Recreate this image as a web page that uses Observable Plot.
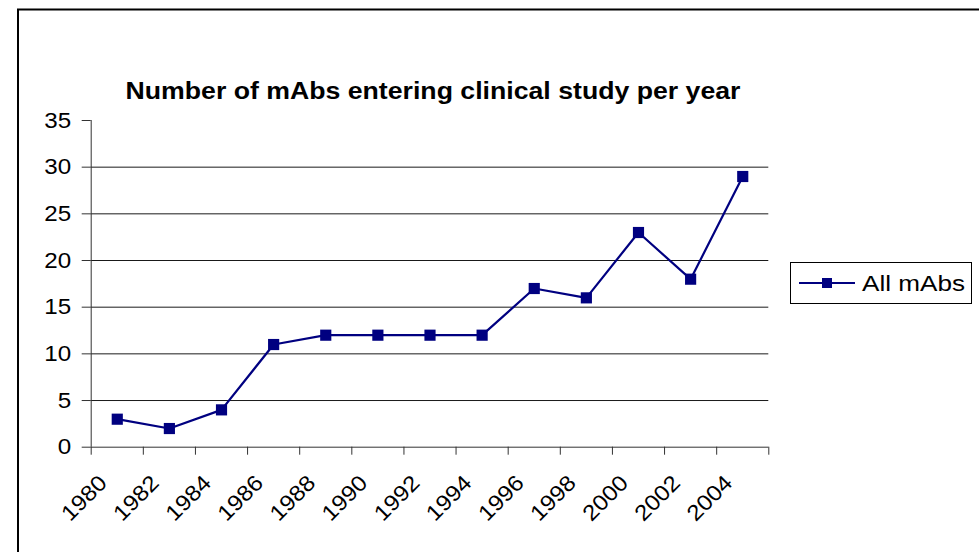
<!DOCTYPE html>
<html>
<head>
<meta charset="utf-8">
<script src="https://cdn.jsdelivr.net/npm/d3@7"></script>
<script src="https://cdn.jsdelivr.net/npm/@observablehq/plot@0.6"></script>
<style>
  html, body { margin: 0; padding: 0; background: #fff; }
  #chart { position: relative; width: 979px; height: 552px; overflow: hidden; }
  svg { font-family: Arial, "Liberation Sans", sans-serif; }
</style>
</head>
<body>
<div id="chart"></div>
<script>
// ---- data ----
const years = ["1980","1982","1984","1986","1988","1990","1992","1994","1996","1998","2000","2002","2004"];
const allMAbs = [3, 2, 4, 11, 12, 12, 12, 12, 17, 16, 23, 18, 29];
const yTicks = [0, 5, 10, 15, 20, 25, 30, 35];
const gridValues = [5, 10, 15, 20, 25, 30];
const titleText = "Number of mAbs entering clinical study per year";
const seriesName = "All mAbs";

const data = years.map((y, i) => ({year: y, idx: i + 0.5, value: allMAbs[i]}));
const boundaries = d3.range(years.length + 1);
const navy = "#000080";

const plot = Plot.plot({
  width: 979,
  height: 552,
  marginLeft: 90.7,
  marginRight: 210.7,
  marginTop: 120,
  marginBottom: 105.3,
  style: {background: "transparent", fontFamily: "Arial, 'Liberation Sans', sans-serif"},
  x: {type: "linear", domain: [0, years.length], label: null},
  y: {type: "linear", domain: [0, 35], label: null},
  marks: [
    Plot.ruleY(gridValues, {stroke: "#000", strokeWidth: 1, strokeOpacity: 0.9}),
    Plot.axisY({ticks: yTicks, tickSize: 9, tickPadding: 11, fontSize: 22, color: "#000", stroke: "#333", label: null, className: "ylab"}),
    Plot.axisX({ticks: boundaries, tickSize: 8, tickFormat: () => "", stroke: "#333", label: null}),
    Plot.ruleX([0], {stroke: "#333"}),
    Plot.ruleY([0], {stroke: "#333"}),
    Plot.text(data, {x: "idx", text: "year", frameAnchor: "bottom", rotate: -45, textAnchor: "end", dx: -9, dy: 37, fontSize: 22, fill: "#000", className: "xlab"}),
    Plot.line(data, {x: "idx", y: "value", stroke: navy, strokeWidth: 2.2}),
    Plot.dot(data, {x: "idx", y: "value", symbol: "square", r: 6.3, fill: navy, stroke: "none"}),
    Plot.text([titleText], {frameAnchor: "top", dx: 3, dy: -38, fontSize: 23, fontWeight: "bold", fill: "#000", className: "ttl"})
  ]
});

document.getElementById("chart").appendChild(plot);
const svg = d3.select(plot);

// outer chart-area border (extends beyond the crop right and bottom)
svg.append("path")
  .attr("d", "M18,600V9.5H1000")
  .attr("fill", "none")
  .attr("stroke", "#000")
  .attr("stroke-width", 2);

// legend
const lg = svg.append("g");
lg.append("rect").attr("x", 790.5).attr("y", 262.5).attr("width", 181).attr("height", 41)
  .attr("fill", "#fff").attr("stroke", "#000").attr("stroke-width", 1);
lg.append("line").attr("x1", 799).attr("x2", 855).attr("y1", 283).attr("y2", 283)
  .attr("stroke", navy).attr("stroke-width", 2);
lg.append("rect").attr("x", 822).attr("y", 278).attr("width", 10).attr("height", 10).attr("fill", navy);
lg.append("text").attr("class", "lgt").attr("x", 862).attr("y", 291).attr("font-size", 22)
  .attr("text-anchor", "start").attr("fill", "#000").text(seriesName);

// mimic the wider glyph rendering of the original
function stretch(sel, f) {
  sel.each(function() {
    const len = this.getComputedTextLength();
    if (len > 0) {
      this.setAttribute("textLength", (typeof f === "function" ? f(len) : len * f).toFixed(1));
      this.setAttribute("lengthAdjust", "spacingAndGlyphs");
    }
  });
}
stretch(svg.selectAll(".ylab text"), 1.1);
stretch(svg.selectAll(".xlab text"), 1.1);
stretch(svg.selectAll(".ttl text"), () => 615);
stretch(svg.selectAll(".lgt"), () => 103);
</script>
</body>
</html>
